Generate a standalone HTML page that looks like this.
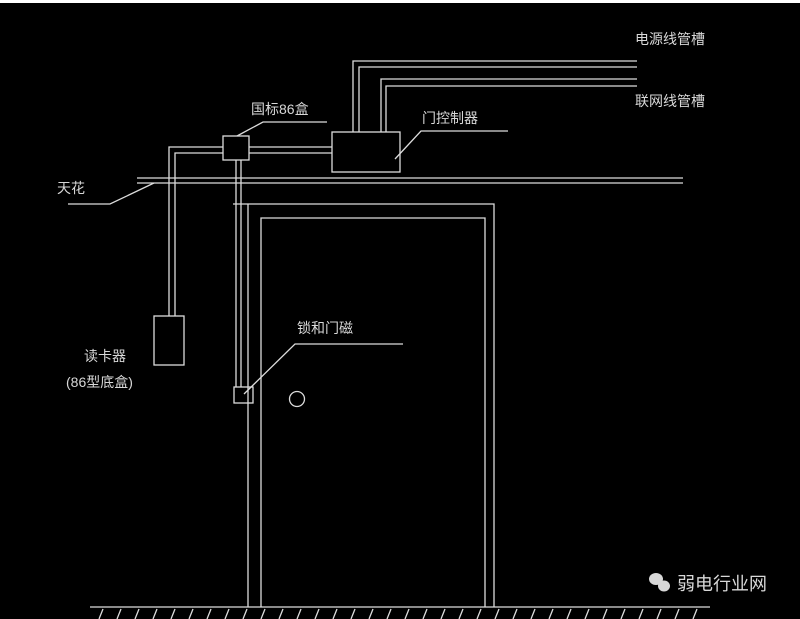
<!DOCTYPE html>
<html><head><meta charset="utf-8"><style>
body{margin:0;background:#fff}
svg{display:block}
text{font-family:"Liberation Sans","Noto Sans CJK SC",sans-serif;fill:#d8d8d8}
</style></head><body>
<svg width="800" height="619" viewBox="0 0 800 619">
<rect x="0" y="3" width="800" height="616" fill="#000"/>
<g stroke="#dcdcdc" stroke-width="1.3" fill="none">
<polyline points="353,132 353,61 637,61"/>
<polyline points="359,132 359,67 637,67"/>
<polyline points="381,132 381,79 637,79"/>
<polyline points="386,132 386,86 637,86"/>
<rect x="332" y="132" width="68" height="40"/>
<rect x="223" y="136" width="26" height="24"/>
<line x1="249" y1="147" x2="332" y2="147"/>
<line x1="249" y1="153" x2="332" y2="153"/>
<polyline points="223,147 169,147 169,316"/>
<polyline points="223,153 175,153 175,316"/>
<line x1="236" y1="160" x2="236" y2="387"/>
<line x1="241" y1="160" x2="241" y2="387"/>
<line x1="137" y1="178" x2="683" y2="178"/>
<line x1="137" y1="183" x2="683" y2="183"/>
<polyline points="237,136 263,122 327,122"/>
<polyline points="395,159 421,131 508,131"/>
<polyline points="154,183 110,204 68,204"/>
<polyline points="244,394 295,344 403,344"/>
<polyline points="233,204 494,204 494,607"/>
<line x1="248" y1="204" x2="248" y2="607"/>
<polyline points="261,607 261,218 485,218 485,607"/>
<rect x="154" y="316" width="30" height="49"/>
<rect x="234" y="387" width="19" height="16"/>
<circle cx="297" cy="399" r="7.5"/>
<line x1="90" y1="607" x2="710" y2="607"/>
<path d="M103,609l-4,10M121,609l-4,10M139,609l-4,10M157,609l-4,10M175,609l-4,10M193,609l-4,10M211,609l-4,10M229,609l-4,10M247,609l-4,10M265,609l-4,10M283,609l-4,10M301,609l-4,10M319,609l-4,10M337,609l-4,10M355,609l-4,10M373,609l-4,10M391,609l-4,10M409,609l-4,10M427,609l-4,10M445,609l-4,10M463,609l-4,10M481,609l-4,10M499,609l-4,10M517,609l-4,10M535,609l-4,10M553,609l-4,10M571,609l-4,10M589,609l-4,10M607,609l-4,10M625,609l-4,10M643,609l-4,10M661,609l-4,10M679,609l-4,10M697,609l-4,10"/>
</g>
<g font-size="14">
<text x="635" y="44">电源线管槽</text>
<text x="635" y="106">联网线管槽</text>
<text x="251" y="114">国标86盒</text>
<text x="422" y="123">门控制器</text>
<text x="57" y="193">天花</text>
<text x="297" y="333">锁和门磁</text>
<text x="84" y="361">读卡器</text>
<text x="66" y="387">(86型底盒)</text>
</g>
<g fill="#d8d8d8">
<ellipse cx="656" cy="579" rx="7" ry="6"/>
<ellipse cx="664" cy="586" rx="6" ry="5.5"/>
</g>
<text x="677" y="590" font-size="18" style="fill:#d8d8d8">弱电行业网</text>
</svg>
</body></html>
